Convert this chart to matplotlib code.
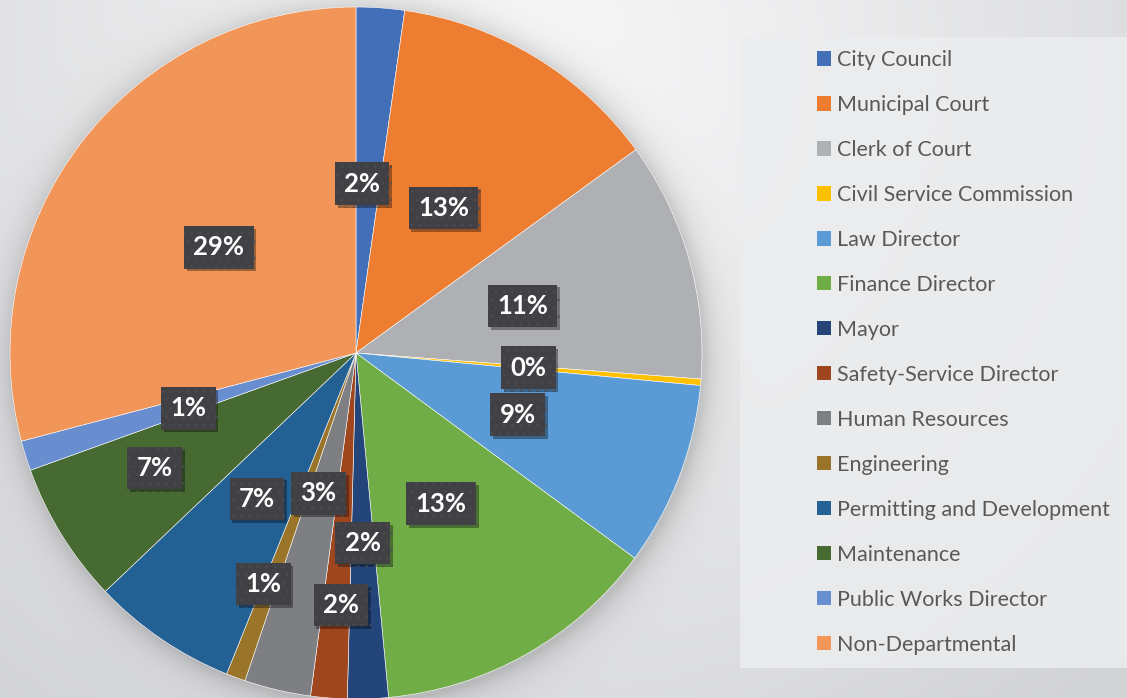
import matplotlib.pyplot as plt
import matplotlib.patheffects as pe
from matplotlib.patches import Patch, Rectangle
import numpy as np

departments = ['City Council', 'Municipal Court', 'Clerk of Court', 'Civil Service Commission',
               'Law Director', 'Finance Director', 'Mayor', 'Safety-Service Director',
               'Human Resources', 'Engineering', 'Permitting and Development', 'Maintenance',
               'Public Works Director', 'Non-Departmental']
shares = [2.25, 12.75, 11.2, 0.3, 8.6, 13.4, 1.9, 1.7, 3.1, 0.9, 6.8, 6.6, 1.4, 29.1]
colors = ['#436EB8', '#ED7D31', '#AFB0B3', '#FFC000', '#5B9BD5', '#70AD47', '#234579',
          '#A0461E', '#7E7F83', '#9A7428', '#236094', '#466A31', '#698ED0', '#F19559']

# label placement (radius fraction, clockwise nudge in degrees)
lab_r = [0.49, 0.49, 0.50, 0.50, 0.50, 0.50, 0.73, 0.55, 0.42, 0.72, 0.51, 0.67, 0.51, 0.50]
lab_nudge = [-2, 0, 0, 0, 0, 0, 5.4, -6.5, 1.8, 1.5, 0, 2, -1, 0]

plt.rcParams['hatch.linewidth'] = 0.5

W, H = 1127, 698
fig = plt.figure(figsize=(W / 100, H / 100), dpi=100)

# background: soft radial gradient plus the pie's drop shadow
cx, cy, R = 356, 353, 346
yy, xx = np.mgrid[0:H, 0:W]
d = np.hypot(xx - 520, yy - 60)
t = np.clip(d / 850, 0, 1) ** 1.1
c0 = np.array([248, 248, 249]) / 255
c1 = np.array([210, 211, 213]) / 255
img = c0 * (1 - t[..., None]) + c1 * t[..., None]
ds = np.hypot(xx - cx - 2, yy - cy - 3) - R
shade = np.where(ds > 0, 0.16 * np.exp(-ds / 14), 0.16)
img = img * (1 - shade[..., None])
bg = fig.add_axes([0, 0, 1, 1])
bg.imshow(img, extent=[0, W, H, 0], aspect='auto')
bg.set_xlim(0, W)
bg.set_ylim(H, 0)
bg.axis('off')

# legend panel
bg.add_patch(Rectangle((740, 37), 400, 631, facecolor='#ECEDEE', edgecolor='none', alpha=0.85))

ax = fig.add_axes([(cx - R) / W, (H - cy - R) / H, 2 * R / W, 2 * R / H])
wedges, _ = ax.pie(shares, colors=colors, startangle=90, counterclock=False, radius=1,
                   wedgeprops=dict(edgecolor='white', linewidth=0.4))
ax.set_xlim(-1, 1)
ax.set_ylim(-1, 1)
ax.axis('off')

total = sum(shares)
for w, v, r, n in zip(wedges, shares, lab_r, lab_nudge):
    mid = np.deg2rad((w.theta1 + w.theta2) / 2 - n)
    txt = ax.text(r * np.cos(mid), r * np.sin(mid), f'{round(v / total * 100)}%',
                  ha='center', va='center', color='white', fontsize=18.5, fontweight='bold',
                  family=['Lato', 'DejaVu Sans'],
                  bbox=dict(boxstyle='square,pad=0.36', facecolor='#404045', edgecolor='#4C4C51',
                            linewidth=0, hatch='..'))
    txt.get_bbox_patch().set_path_effects([
        pe.SimplePatchShadow(offset=(2, -2), shadow_rgbFace='black', alpha=0.35), pe.Normal()])

handles = [Patch(facecolor=c, edgecolor='none') for c in colors]
leg = fig.legend(handles, departments, loc='upper left', bbox_to_anchor=(817 / W, 1 - 50 / H),
                 frameon=False, labelcolor='#595959',
                 handlelength=0.65, handleheight=0.65, handletextpad=0.3,
                 labelspacing=1.16, borderpad=0, borderaxespad=0,
                 prop=dict(family=['Lato', 'DejaVu Sans'], size=15.5))

fig.savefig('out.png', dpi=100)
